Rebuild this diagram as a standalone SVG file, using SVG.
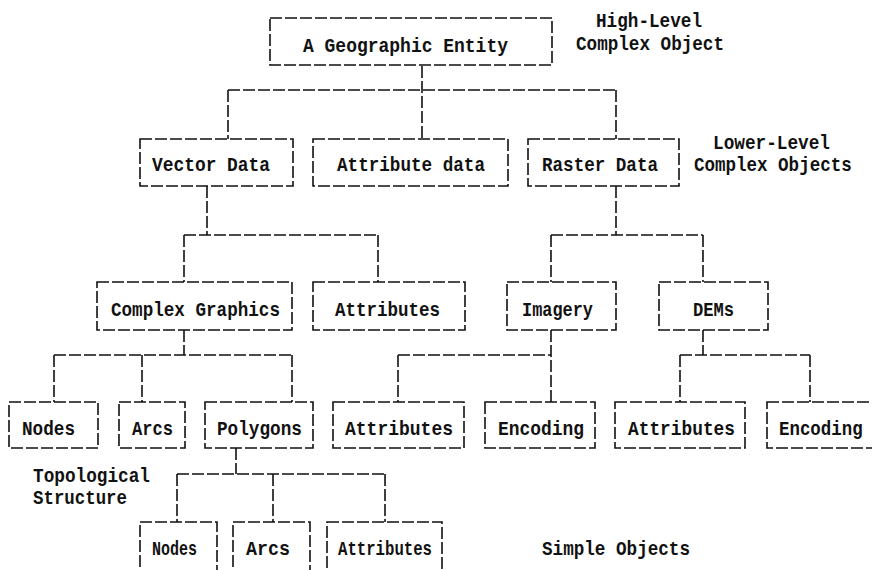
<svg xmlns="http://www.w3.org/2000/svg" width="872" height="570" viewBox="0 0 872 570">
<style>
  .box { fill: none; stroke: #111; stroke-width: 1.6; stroke-dasharray: 12 3; }
  .ln { fill: none; stroke: #111; stroke-width: 1.6; stroke-dasharray: 12 3; }
  text { font-family: "Liberation Mono", "DejaVu Sans Mono", monospace; font-size: 21px; font-weight: bold; fill: #111; }
</style>
<rect width="872" height="570" fill="#fff"/>
<g id="connectors">
  <path class="ln" d="M422 66 V139 M228 90 H616 M228 90 V139 M616 90 V139"/>
  <path class="ln" d="M207 186 V235 M184 235 H378 M184 235 V282 M378 235 V282"/>
  <path class="ln" d="M616 186 V235 M551 235 H703 M551 235 V282 M703 235 V282"/>
  <path class="ln" d="M184 330 V355 M54 355 H292 M54 355 V402 M142 355 V402 M292 355 V402"/>
  <path class="ln" d="M551 330 V402 M398 355 H551 M398 355 V402"/>
  <path class="ln" d="M703 330 V355 M680 355 H810 M680 355 V402 M810 355 V402"/>
  <path class="ln" d="M236 448 V474 M177 474 H385 M177 474 V522 M273 474 V522 M385 474 V522"/>
</g>
<g id="n-geo"><rect class="box" x="270" y="18" width="282" height="47"/><text x="303" y="52" textLength="205" lengthAdjust="spacingAndGlyphs">A Geographic Entity</text></g>
<g id="n-vector"><rect class="box" x="140" y="139" width="153" height="47"/><text x="152" y="171" textLength="118" lengthAdjust="spacingAndGlyphs">Vector Data</text></g>
<g id="n-attrdata"><rect class="box" x="313" y="139" width="195" height="47"/><text x="337" y="171" textLength="148" lengthAdjust="spacingAndGlyphs">Attribute data</text></g>
<g id="n-raster"><rect class="box" x="528" y="139" width="151" height="47"/><text x="542" y="171" textLength="116" lengthAdjust="spacingAndGlyphs">Raster Data</text></g>
<g id="n-complex"><rect class="box" x="97" y="282" width="195" height="48"/><text x="111" y="316" textLength="169" lengthAdjust="spacingAndGlyphs">Complex Graphics</text></g>
<g id="n-attr1"><rect class="box" x="313" y="282" width="152" height="48"/><text x="335" y="316" textLength="105" lengthAdjust="spacingAndGlyphs">Attributes</text></g>
<g id="n-imagery"><rect class="box" x="507" y="282" width="109" height="48"/><text x="522" y="316" textLength="71" lengthAdjust="spacingAndGlyphs">Imagery</text></g>
<g id="n-dems"><rect class="box" x="659" y="282" width="109" height="48"/><text x="693" y="316" textLength="41" lengthAdjust="spacingAndGlyphs">DEMs</text></g>
<g id="n-nodes1"><rect class="box" x="9" y="402" width="89" height="46"/><text x="22" y="435" textLength="53" lengthAdjust="spacingAndGlyphs">Nodes</text></g>
<g id="n-arcs1"><rect class="box" x="119" y="402" width="66" height="46"/><text x="132" y="435" textLength="41" lengthAdjust="spacingAndGlyphs">Arcs</text></g>
<g id="n-polygons"><rect class="box" x="205" y="402" width="108" height="46"/><text x="217" y="435" textLength="85" lengthAdjust="spacingAndGlyphs">Polygons</text></g>
<g id="n-attr2"><rect class="box" x="333" y="402" width="131" height="46"/><text x="345" y="435" textLength="108" lengthAdjust="spacingAndGlyphs">Attributes</text></g>
<g id="n-enc1"><rect class="box" x="485" y="402" width="110" height="46"/><text x="498" y="435" textLength="86" lengthAdjust="spacingAndGlyphs">Encoding</text></g>
<g id="n-attr3"><rect class="box" x="615" y="402" width="130" height="46"/><text x="628" y="435" textLength="107" lengthAdjust="spacingAndGlyphs">Attributes</text></g>
<g id="n-enc2"><rect class="box" x="767" y="402" width="115" height="46"/><text transform="translate(779 435) scale(0.83 1)" x="0" y="0">Encoding</text></g>
<g id="n-nodes2"><rect class="box" x="140" y="522" width="77" height="58"/><text x="152" y="555" textLength="45" lengthAdjust="spacingAndGlyphs">Nodes</text></g>
<g id="n-arcs2"><rect class="box" x="233" y="522" width="77" height="58"/><text x="246" y="555" textLength="44" lengthAdjust="spacingAndGlyphs">Arcs</text></g>
<g id="n-attr4"><rect class="box" x="327" y="522" width="115" height="58"/><text x="338" y="555" textLength="94" lengthAdjust="spacingAndGlyphs">Attributes</text></g>
<g id="labels">
  <text x="596" y="27" textLength="106" lengthAdjust="spacingAndGlyphs">High-Level</text>
  <text x="576" y="50" textLength="148" lengthAdjust="spacingAndGlyphs">Complex Object</text>
  <text x="713" y="149" textLength="117" lengthAdjust="spacingAndGlyphs">Lower-Level</text>
  <text transform="translate(694 171) scale(0.835 1)" x="0" y="0">Complex Objects</text>
  <text x="33" y="482" textLength="117" lengthAdjust="spacingAndGlyphs">Topological</text>
  <text x="33" y="504" textLength="94" lengthAdjust="spacingAndGlyphs">Structure</text>
  <text x="542" y="555" textLength="148" lengthAdjust="spacingAndGlyphs">Simple Objects</text>
</g>
</svg>
